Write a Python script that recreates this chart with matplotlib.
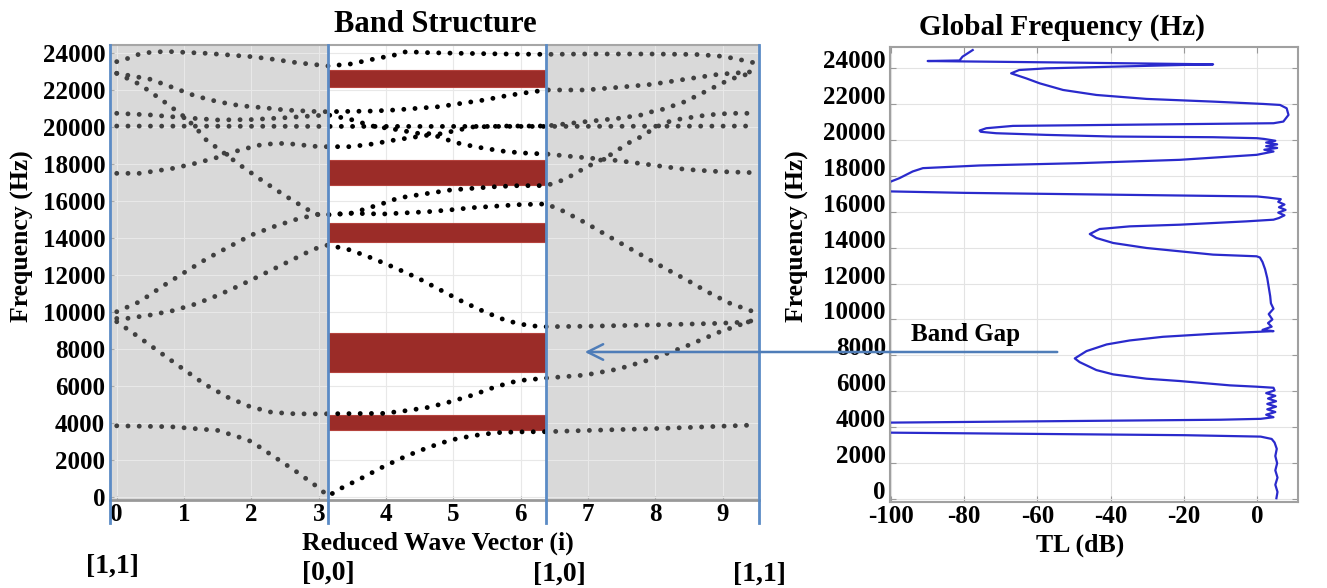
import matplotlib.pyplot as plt
from matplotlib.transforms import Bbox, TransformedBbox

plt.rcParams['font.family'] = ['Liberation Serif', 'DejaVu Serif']
plt.rcParams['font.weight'] = 'bold'
plt.rcParams['axes.unicode_minus'] = False

W, H = 1327, 588

# symmetry points on the reduced wave vector path  M -> G -> X -> M
k_start, k_gamma, k_x, k_end = -0.1, 3.14, 6.38, 9.54
path_labels = ["[1,1]", "[0,0]", "[1,0]", "[1,1]"]

# band gaps (Hz) marked in red between G and X
gap_low = [3620, 6760, 13780, 16860, 22160]
gap_high = [4430, 8860, 14810, 18220, 23080]

# dispersion curves (k, frequency in Hz)
band_a_k = [0, 0.8, 1.5, 1.8, 2.0, 2.3, 2.65, 3.0, 3.14, 3.3, 3.63, 3.96, 4.3, 4.63, 4.96,
            5.29, 5.63, 5.96, 6.38, 7.0, 7.5, 8.0, 8.5, 9.0, 9.46]
band_a_f = [3850, 3800, 3600, 3260, 3000, 2270, 1420, 500, 50, 416, 1009, 1640, 2216, 2685, 3081,
            3315, 3477, 3520, 3531, 3600, 3650, 3700, 3760, 3830, 3890]

band_b_k = [0, 0.32, 0.65, 0.98, 1.31, 1.65, 1.98, 2.3, 2.64, 3.0, 3.14, 3.96, 4.3, 4.63, 4.96,
            5.29, 5.63, 5.96, 6.38, 6.96, 7.45, 7.95, 8.44, 8.94, 9.46]
band_b_f = [9475, 8665, 7800, 6935, 6090, 5390, 4885, 4580, 4500, 4490, 4500, 4522, 4667, 4847, 5154,
            5513, 5963, 6288, 6430, 6594, 6918, 7459, 8125, 8901, 9567]

band_c_k = [0, 0.16, 0.5, 0.83, 1.17, 1.5, 1.82, 2.15, 2.5, 2.83, 3.0, 3.14, 3.47, 3.8, 4.13,
            4.47, 4.79, 5.12, 5.46, 5.79, 6.12, 6.38, 6.96, 7.95, 8.94, 9.46]
band_c_f = [9650, 9657, 9838, 10070, 10430, 10900, 11420, 12000, 12630, 13225, 13495, 13620, 13350, 12900, 12395,
            11840, 11225, 10594, 10016, 9530, 9260, 9207, 9230, 9300, 9387, 9477]

band_d_k = [0, 0.34, 0.67, 1.0, 1.33, 1.67, 2.0, 2.33, 2.67, 3.0, 3.14, 3.47, 3.96, 4.3, 4.63,
            4.96, 5.29, 5.63, 5.96, 6.38, 6.63, 6.96, 7.29, 7.62, 7.95, 8.28, 8.44, 8.77, 9.11, 9.46]
band_d_f = [10016, 10557, 11368, 12125, 12864, 13530, 14161, 14610, 15010, 15296, 15270, 15333, 15296, 15360, 15422,
            15520, 15640, 15720, 15800, 15840, 15458, 14827, 14124, 13440, 12755, 12090, 11790, 11097, 10468, 10016]

band_e_k = [0, 0.34, 0.67, 1.0, 1.17, 1.33, 1.5, 1.83, 2.17, 2.5, 2.83, 3.0, 3.14, 3.47, 3.63,
            3.8, 3.96, 4.13, 4.3, 4.63, 4.96, 5.29, 5.63, 5.96, 6.38, 6.63, 6.79, 6.96, 7.29, 7.62,
            7.79, 7.95, 8.11, 8.28, 8.44, 8.77, 9.11, 9.46]
band_e_f = [22900, 22305, 21458, 20560, 19980, 19296, 18846, 17944, 17079, 16286, 15550, 15242, 15250, 15330, 15500,
            15693, 15873, 16090, 16233, 16414, 16594, 16684, 16774, 16828, 16830, 17134, 17440, 17800, 18395, 19170,
            19476, 19850, 20180, 20376, 20466, 20647, 20738, 20738]

band_f_k = [0, 0.34, 0.84, 1.17, 1.5, 1.83, 2.17, 2.5, 3.0, 3.14, 3.47, 3.8, 4.13, 4.47, 4.63,
            4.79, 4.96, 5.12, 5.46, 5.79, 6.12, 6.38, 6.79, 7.45, 7.95, 8.44, 8.94, 9.46]
band_f_f = [17494, 17494, 17765, 18035, 18360, 18755, 19063, 19117, 18935, 18935, 18935, 19080, 19296, 19476, 19560,
            19476, 19243, 19080, 18846, 18665, 18575, 18540, 18395, 18180, 17944, 17710, 17590, 17530]

band_g_k = [0, 3.14, 6.38, 9.46]
band_g_f = [20050, 20030, 20030, 20050]

band_h_k = [0, 0.5, 1.0, 1.5, 2.0, 2.5, 3.0, 3.14, 3.47, 3.8, 4.13, 4.47, 4.79, 4.96, 5.29,
            5.79, 6.38, 6.96, 7.45, 7.79, 7.95, 8.11, 8.44, 8.77, 9.11, 9.46]
band_h_f = [20738, 20650, 20500, 20380, 20400, 20500, 20620, 20650, 20413, 20050, 19874, 19658, 19620, 19747, 20000,
            20050, 20050, 20286, 20466, 20647, 20827, 20954, 21367, 21962, 22576, 22953]

band_j_k = [0, 0.5, 0.84, 1.17, 1.5, 1.83, 2.17, 2.5, 3.0, 3.14, 3.8, 4.13, 4.47, 4.79, 5.12,
            5.46, 5.79, 6.12, 6.38, 6.96, 7.45, 7.95, 8.44, 8.94, 9.46]
band_j_f = [22900, 22577, 22125, 21675, 21367, 21151, 21043, 20918, 20827, 20827, 20860, 20918, 21010, 21097, 21277,
            21458, 21690, 21871, 21998, 21998, 22143, 22305, 22576, 22846, 22988]

band_t_k = [0, 0.17, 0.34, 0.5, 0.67, 0.84, 1.0, 1.33, 1.67, 2.0, 2.33, 2.67, 3.0, 3.14, 3.47,
            3.8, 4.13, 4.3, 4.63, 5.12, 5.79, 6.38, 6.96, 7.95, 8.6, 8.94, 9.11, 9.28, 9.46]
band_t_f = [23530, 23710, 23944, 24034, 24070, 24070, 24034, 23980, 23890, 23800, 23656, 23476, 23350, 23296, 23404,
            23656, 23890, 24070, 24015, 23980, 23944, 23926, 23944, 23944, 23920, 23836, 23745, 23620, 23476]

# transmission loss curve (frequency in Hz, TL in dB)
tl_freq = [50, 400, 800, 1200, 1600, 2000, 2400, 2800, 3150, 3350, 3480, 3560, 3650, 3700, 3750,
           4200, 4260, 4330, 4420, 4470, 4560, 4700, 4850, 5000, 5150, 5300, 5450, 5600, 5750, 5900,
           6050, 6200, 6259, 6333, 6574, 6704, 6944, 7185, 7630, 7833, 8241, 8611, 8833, 9037, 9204,
           9315, 9352, 9420, 9600, 9800, 10000, 10300, 10600, 10900, 11300, 11800, 12300, 12800, 13200, 13450,
           13518, 13611, 13981, 14259, 14537, 14759, 15037, 15185, 15278, 15463, 15556, 15650, 15800, 15950, 16100,
           16250, 16400, 16550, 16700, 16790, 16850, 16950, 17050, 17130, 17250, 17500, 17685, 17870, 18241, 18426,
           18574, 18704, 18889, 19167, 19352, 19450, 19550, 19650, 19750, 19850, 19950, 20050, 20093, 20148, 20185,
           20278, 20370, 20450, 20520, 20648, 20778, 20815, 20870, 20926, 21019, 21389, 21759, 21944, 22000, 22130,
           22280, 22500, 22778, 23148, 23426, 23611, 23704, 23889, 23981, 24074, 24167, 24204, 24300, 24389, 24420,
           24630, 25000]
tl_db = [5.3, 5.6, 5.0, 5.6, 5.0, 5.5, 5.0, 5.4, 4.8, 4.0, 1.0, -20, -70, -100, -112,
         -112, -100, -60, -10, 1.0, 4.5, 2.5, 5.0, 2.8, 5.2, 2.8, 5.2, 3.0, 5.0, 2.5,
         4.8, 4.5, -0.1, -7.4, -21.1, -30.2, -39.3, -43.9, -48.5, -49.8, -46.6, -41.1, -34.8, -25.7, -12.0,
         -0.1, 4.5, 1.5, 4.0, 3.0, 4.2, 3.2, 4.5, 3.8, 3.6, 3.2, 2.8, 2.2, 1.5, 0.8,
         -0.1, -12.0, -30.2, -39.3, -43.9, -45.7, -43.0, -34.8, -21.1, -2.9, 4.5, 6.0, 7.5, 5.8, 7.8,
         6.0, 7.5, 5.8, 6.5, 3.0, 0.0, -40, -80, -100, -101.5, -101.5, -100, -97.7, -94.1, -91.3,
         -75.8, -48.5, -21.1, -0.1, 4.5, 2.0, 5.5, 2.5, 5.5, 2.5, 5.0, 2.0, 0.0, -12.0, -39.3,
         -57.6, -71.3, -75.5, -75.8, -74.0, -66.7, -48.5, -21.1, 4.5, 7.2, 8.6, 8.1, 6.3, 1.7, -12.0,
         -30.2, -43.9, -53.0, -59.4, -63.1, -65.8, -67.2, -65.0, -57.6, -39.3, -21.1, -12.0, -50, -90.0, -81.3,
         -80.5, -77.7]

bands = [(band_a_k, band_a_f), (band_b_k, band_b_f), (band_c_k, band_c_f), (band_d_k, band_d_f),
         (band_e_k, band_e_f), (band_f_k, band_f_f), (band_g_k, band_g_f), (band_h_k, band_h_f),
         (band_j_k, band_j_f), (band_t_k, band_t_f)]


def fx(x):
    return x / W


def fy(y):
    return 1 - y / H


fig = plt.figure(figsize=(W / 100, H / 100), dpi=100)

# ---------------- band structure ----------------
ax = fig.add_axes([fx(110), fy(500), 649 / W, 455 / H])
y_lo, y_hi = -160, 24430
ax.set_xlim(k_start, k_end)
ax.set_ylim(y_lo, y_hi)
ax.set_axisbelow(True)
ax.grid(color='#e8e8e8', lw=0.8)

grey = '#d9d9d9'
ax.axvspan(k_start, k_gamma, color=grey, lw=0, zorder=0.2)
ax.axvspan(k_x, k_end, color=grey, lw=0, zorder=0.2)

gap_mid = [(lo + hi) / 2 for lo, hi in zip(gap_low, gap_high)]
gap_h = [hi - lo for lo, hi in zip(gap_low, gap_high)]
ax.barh(gap_mid, k_x - k_gamma, height=gap_h, left=k_gamma, color='#9b2c28',
        edgecolor='#b5433d', lw=0.8, zorder=2)

# dotted bands: black over the white part, dark grey over the shaded parts
regions = [(k_gamma, k_x, 'black'), (k_start, k_gamma, '#404040'), (k_x, k_end, '#404040')]
for kk, ff in bands:
    for x0, x1, col in regions:
        ln, = ax.plot(kk, ff, color=col, lw=3.5, ls=(0, (0.01, 2.3)),
                      dash_capstyle='round', zorder=3)
        ln.set_clip_box(TransformedBbox(Bbox([[x0, y_lo], [x1, y_hi]]), ax.transData))

for xv in [k_start, k_gamma, k_x, k_end]:
    ax.plot([xv, xv], [y_hi, -1400], color='#5b8bc5', lw=2, clip_on=False, zorder=5)

ax.set_xticks(range(10))
ax.set_yticks(range(0, 24001, 2000))
ax.tick_params(direction='in', length=3, color='#aaaaaa', labelsize=18)
ax.tick_params(axis='x', pad=2)
ax.tick_params(axis='y', pad=3.5)
ax.spines['left'].set_visible(False)
ax.spines['right'].set_visible(False)
ax.spines['top'].set_color('#a6a6a6')
ax.spines['top'].set_linewidth(1.5)
ax.spines['bottom'].set_color('#999999')
ax.spines['bottom'].set_linewidth(2)

fig.text(fx(435), fy(25), 'Band Structure', fontsize=22, ha='center', va='center')
fig.text(fx(22), fy(236), 'Frequency (Hz)', fontsize=18.5, rotation=90, ha='center', va='center')
fig.text(fx(438), fy(543), 'Reduced Wave Vector (i)', fontsize=18.5, ha='center', va='center')
for lab, (px, py) in zip(path_labels, [(112, 566), (328, 573), (559, 574), (759, 574)]):
    fig.text(fx(px), fy(py), lab, fontsize=20, ha='center', va='center')

# ---------------- transmission loss ----------------
ax2 = fig.add_axes([fx(890), fy(502), 408 / W, 455 / H])
ax2.plot(tl_db, tl_freq, color='#2a2acc', lw=1.6)
ax2.set_xlim(-100.3, 11.2)
ax2.set_ylim(-160, 25170)
ax2.set_xticks(range(-100, 1, 20))
ax2.set_yticks(range(0, 24001, 2000))
ax2.set_axisbelow(True)
ax2.grid(color='#e3e3e3', lw=0.8)
ax2.tick_params(direction='in', length=4, color='#999999', labelsize=18, top=True, right=True)
ax2.tick_params(axis='x', pad=2)
ax2.tick_params(axis='y', pad=3)
plt.setp(ax2.get_yticklabels(), va='baseline')
for sp in ax2.spines.values():
    sp.set_color('#a0a0a0')
    sp.set_linewidth(1.5)

fig.text(fx(1062), fy(27), 'Global Frequency (Hz)', fontsize=21, ha='center', va='center')
fig.text(fx(797), fy(236), 'Frequency (Hz)', fontsize=18.5, rotation=90, ha='center', va='center')
fig.text(fx(1080), fy(545), 'TL (dB)', fontsize=18.5, ha='center', va='center')
fig.text(fx(966), fy(335), 'Band Gap', fontsize=18, ha='center', va='center')

ax2.annotate('', xy=(fx(582), fy(352)), xytext=(fx(1060), fy(352)),
             xycoords='figure fraction', textcoords='figure fraction', annotation_clip=False,
             arrowprops=dict(arrowstyle='->', color='#4f7db8', lw=1.8, mutation_scale=28))

fig.savefig('out.png', dpi=100)
